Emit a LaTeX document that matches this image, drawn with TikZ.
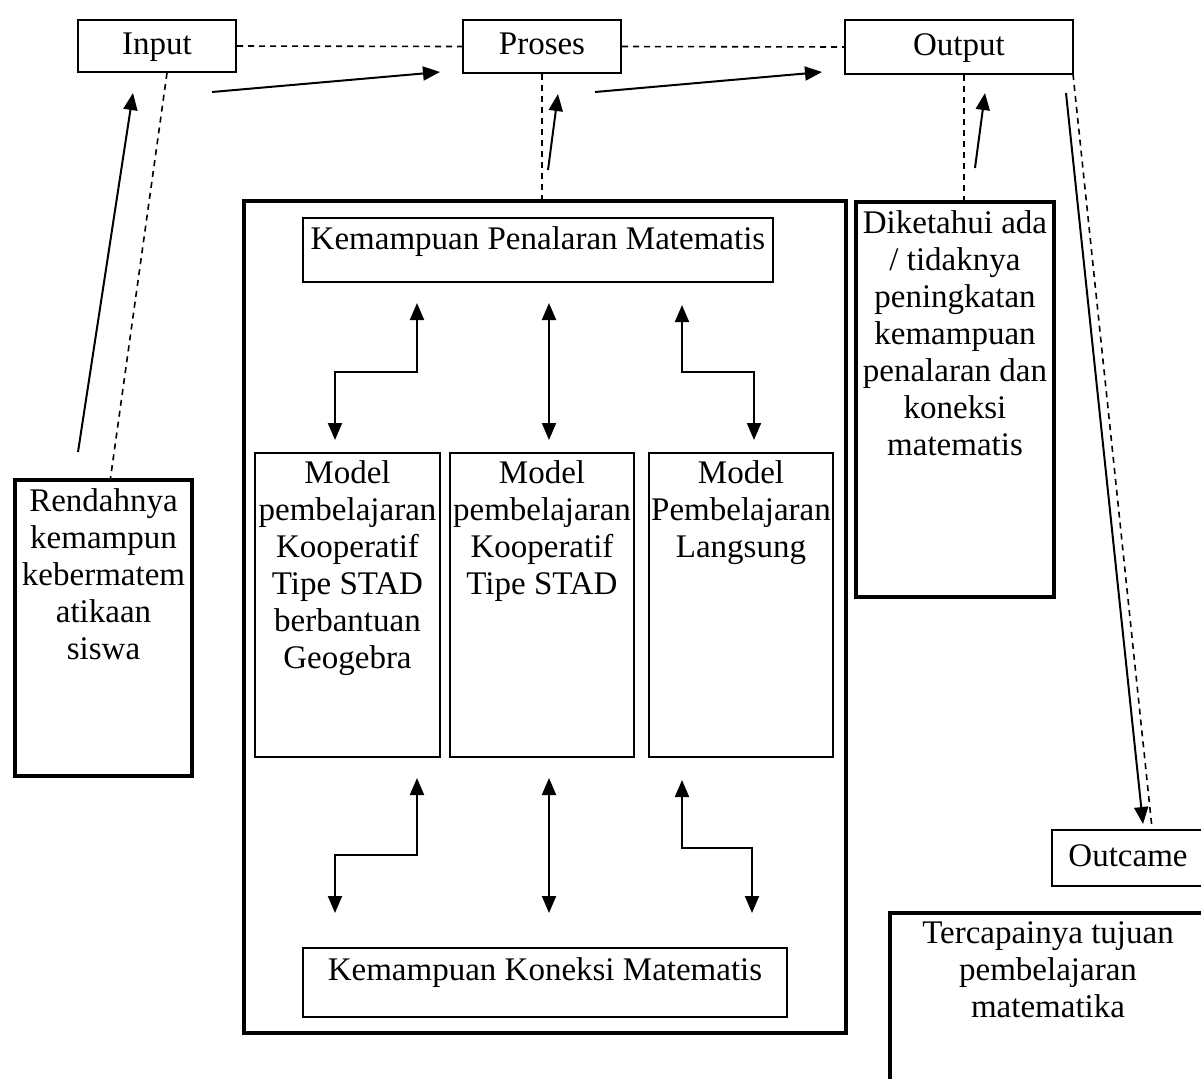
\documentclass[tikz,border=0pt]{standalone}
\usepackage{fontspec}
\setmainfont{Liberation Serif}
\usetikzlibrary{arrows.meta}
\begin{document}
\begin{tikzpicture}[
          x=0.5pt,
          y=-0.5pt,
          bx/.style={draw, line width=1pt, inner sep=0pt},
          thk/.style={draw, line width=1.9pt, inner sep=0pt},
          txt/.style={align=center, inner sep=0pt, font=\fontsize{16.5}{18.5}\selectfont},
          hd/.style={text height=11.5pt, text depth=3.5pt},
          ar/.style={line width=1pt, -{Triangle[length=8.5pt, width=7pt]}},
          ar2/.style={line width=1pt, {Triangle[length=8.5pt, width=7pt]}-{Triangle[length=8.5pt, width=7pt]}},
          dsh/.style={line width=0.8pt, dash pattern=on 3pt off 2.5pt},
        ]
      \useasboundingbox (0,0) rectangle (1201,1078);
      \clip (0,0) rectangle (1201,1078);
      \node[bx, txt, hd, draw, minimum width=79pt, minimum height=26pt] (input) at (157,46) {Input};
      \node[bx, txt, hd, draw, minimum width=79pt, minimum height=26.5pt] (proses) at (542,46.5) {Proses};
      \node[bx, txt, hd, draw, minimum width=114pt, minimum height=27pt] (output) at (959,47) {Output};
      \node[thk, minimum width=301pt, minimum height=416pt] (outer) at (545,617) {};
      \node[bx, minimum width=235pt, minimum height=32pt] (penal) at (538,250) {};
      \node[bx, minimum width=92.5pt, minimum height=152pt] (m1) at (347.5,605) {};
      \node[bx, minimum width=92pt, minimum height=152pt] (m2) at (542,605) {};
      \node[bx, minimum width=92pt, minimum height=152pt] (m3) at (741,605) {};
      \node[bx, minimum width=242pt, minimum height=34.5pt] (kon) at (545,982.5) {};
      \node[thk, minimum width=88.5pt, minimum height=148pt] (rend) at (103.5,628) {};
      \node[thk, minimum width=99pt, minimum height=197.5pt] (dik) at (955,399.5) {};
      \node[bx, txt, hd, draw, minimum width=76pt, minimum height=28pt] (outc) at (1128,858) {Outcame};
      \node[thk, minimum width=158pt, minimum height=98.5pt] (terc) at (1048,1011.5) {};
      \node[txt, anchor=north] (penalt) at ([yshift=-4.5pt]penal.north) {Kemampuan Penalaran Matematis};
      \node[txt, anchor=north] (m1t) at ([yshift=-4pt]m1.north) {Model\\pembelajaran\\Kooperatif\\Tipe STAD\\berbantuan\\Geogebra};
      \node[txt, anchor=north] (m2t) at ([yshift=-4pt]m2.north) {Model\\pembelajaran\\Kooperatif\\Tipe STAD};
      \node[txt, anchor=north] (m3t) at ([yshift=-4pt]m3.north) {Model\\Pembelajaran\\Langsung};
      \node[txt, anchor=north] (kont) at ([yshift=-5pt]kon.north) {Kemampuan Koneksi Matematis};
      \node[txt, anchor=north] (rendt) at ([yshift=-5pt]rend.north) {Rendahnya\\kemampun\\kebermatem\\atikaan\\siswa};
      \node[txt, anchor=north] (dikt) at ([yshift=-5pt]dik.north) {Diketahui ada\\/ tidaknya\\peningkatan\\kemampuan\\penalaran dan\\koneksi\\matematis};
      \node[txt, anchor=north] (terct) at ([yshift=-5pt]terc.north) {Tercapainya tujuan\\pembelajaran\\matematika};
      \coordinate (a1) at (212,92);
      \coordinate (a2) at (440,72);
      \coordinate (a3) at (595,92);
      \coordinate (a4) at (822,72);
      \coordinate (u1) at (78,452);
      \coordinate (u2) at (133,93);
      \coordinate (u3) at (548,170);
      \coordinate (u4) at (558,94);
      \coordinate (u5) at (975,168);
      \coordinate (u6) at (985,93);
      \coordinate (o1) at (1066,93);
      \coordinate (o2) at (1143,824);
      \coordinate (o3) at (1073,74);
      \coordinate (o4) at (1152,828);
      \draw[dsh] (input.east) -- (proses.west);
      \draw[dsh] (proses.east) -- (output.west);
      \draw[dsh] ([xshift=5pt]input.south) -- ([xshift=3.5pt]rend.north);
      \draw[dsh] (proses.south) -- (proses.south |- outer.north);
      \draw[dsh] ([xshift=2.5pt]output.south) -- ([xshift=4.5pt]dik.north);
      \draw[dsh] (o3) -- (o4);
      \draw[ar] (a1) -- (a2);
      \draw[ar] (a3) -- (a4);
      \draw[ar] (u1) -- (u2);
      \draw[ar] (u3) -- (u4);
      \draw[ar] (u5) -- (u6);
      \draw[ar] (o1) -- (o2);
      \draw[ar2] (417,303) -- (417,372) -- (335,372) -- (335,440);
      \draw[ar2] (549,303) -- (549,440);
      \draw[ar2] (682,305) -- (682,372) -- (754,372) -- (754,440);
      \draw[ar2] (417,778) -- (417,855) -- (335,855) -- (335,913);
      \draw[ar2] (549,778) -- (549,913);
      \draw[ar2] (682,780) -- (682,848) -- (752,848) -- (752,913);
    \end{tikzpicture}
\end{document}
